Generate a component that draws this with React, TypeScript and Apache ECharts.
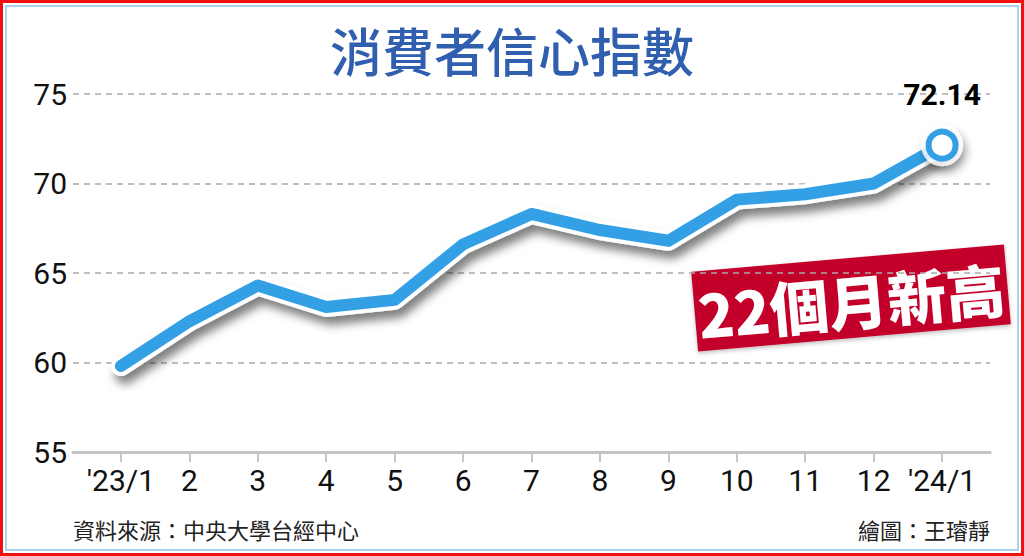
import React, { useEffect, useRef } from "react";
import * as echarts from "echarts";

const categories = ["'23/1", "2", "3", "4", "5", "6", "7", "8", "9", "10", "11", "12", "'24/1"];
const values = [59.8, 62.3, 64.3, 63.1, 63.5, 66.6, 68.3, 67.4, 66.8, 69.1, 69.4, 70.0, 72.14];
const yTicks = [55, 60, 65, 70, 75];
const titleText = "消費者信心指數";
const badgeText = "22個月新高";
const sourceText = "資料來源：中央大學台經中心";
const creditText = "繪圖：王璿靜";

const BLUE = "#33a0e6";
const NUM_FONT = "Roboto, 'Liberation Sans', sans-serif";
const CJK_FONT = "'Noto Sans CJK TC', 'Noto Sans', sans-serif";

export default function App() {
  const ref = useRef<HTMLDivElement>(null);
  useEffect(() => {
    if (!ref.current) return;
    const chart = echarts.init(ref.current, null, { renderer: "svg" });
    const points = values.map((v, i) => [i, v]);
    const last = points[points.length - 1];
    chart.setOption({
      animation: false,
      backgroundColor: "#ffffff",
      title: {
        text: titleText,
        left: "center",
        top: 18,
        textStyle: { fontFamily: CJK_FONT, fontSize: 52, fontWeight: 500, color: "#2f5fae" },
      },
      grid: { left: 73, right: 34, top: 94, bottom: 104 },
      xAxis: {
        type: "value",
        min: -0.7,
        max: 12.7,
        splitLine: { show: false },
        axisLine: { show: true, lineStyle: { color: "#c4c4c4", width: 3 } },
        axisTick: {
          show: true,
          customValues: categories.map((_, i) => i),
          length: 10,
          lineStyle: { color: "#c4c4c4", width: 2 },
        },
        axisLabel: {
          customValues: categories.map((_, i) => i),
          formatter: (v: number) => categories[Math.round(v)] ?? "",
          margin: 13,
          fontSize: 30,
          color: "#111",
          fontFamily: NUM_FONT,
        },
      },
      yAxis: {
        type: "value",
        min: yTicks[0],
        max: yTicks[yTicks.length - 1],
        interval: 5,
        axisLine: { show: false },
        axisTick: { show: false },
        axisLabel: { margin: 6, fontSize: 30, color: "#111", fontFamily: NUM_FONT },
        splitLine: {
          show: true,
          lineStyle: { color: "#ababab", width: 1.5, type: [6, 5] },
        },
      },
      series: [
        {
          type: "line",
          data: points,
          showSymbol: false,
          z: 2,
          lineStyle: {
            color: "#ffffff",
            width: 20,
            cap: "round",
            join: "round",
            shadowColor: "rgba(0,0,0,0.5)",
            shadowBlur: 10,
            shadowOffsetX: 4,
            shadowOffsetY: 8,
          },
        },
        {
          type: "line",
          data: points,
          showSymbol: false,
          z: 3,
          lineStyle: { color: BLUE, width: 12, cap: "round", join: "round" },
        },
        {
          type: "scatter",
          data: [last],
          symbolSize: 42,
          z: 4,
          itemStyle: {
            color: "#ffffff",
            shadowColor: "rgba(0,0,0,0.45)",
            shadowBlur: 8,
            shadowOffsetX: 3,
            shadowOffsetY: 6,
          },
        },
        {
          type: "scatter",
          data: [last],
          symbolSize: 27,
          z: 5,
          itemStyle: { color: "#ffffff", borderColor: BLUE, borderWidth: 6, opacity: 1 },
          label: {
            show: true,
            position: "top",
            distance: 19,
            formatter: (p: any) => p.value[1].toFixed(2),
            fontSize: 30,
            fontWeight: "bold",
            color: "#000",
            fontFamily: NUM_FONT,
          },
        },
      ],
      graphic: [
        {
          type: "rect",
          shape: { x: 1.5, y: 1.5, width: 1021, height: 553 },
          style: { fill: "none", stroke: "#ee1111", lineWidth: 3 },
          silent: true,
          z: 10,
        },
        {
          type: "rect",
          shape: { x: 6, y: 6, width: 1012, height: 544 },
          style: { fill: "none", stroke: "#a9d2f2", lineWidth: 2 },
          silent: true,
          z: 10,
        },
        {
          type: "group",
          x: 851,
          y: 298,
          rotation: (5 * Math.PI) / 180,
          z: 20,
          children: [
            {
              type: "rect",
              shape: { x: -157, y: -40, width: 314, height: 80 },
              style: { fill: "#c2002c", shadowColor: "rgba(0,0,0,0.25)", shadowBlur: 4, shadowOffsetY: 2 },
            },
            {
              type: "text",
              x: 0,
              y: 2,
              style: {
                text: badgeText,
                fill: "#ffffff",
                font: `900 59px ${CJK_FONT}`,
                align: "center",
                verticalAlign: "middle",
              },
            },
          ],
        },
        {
          type: "text",
          x: 73,
          y: 529,
          style: {
            text: sourceText,
            fill: "#222",
            font: `22px ${CJK_FONT}`,
            align: "left",
            verticalAlign: "middle",
          },
        },
        {
          type: "text",
          x: 990,
          y: 529,
          style: {
            text: creditText,
            fill: "#222",
            font: `22px ${CJK_FONT}`,
            align: "right",
            verticalAlign: "middle",
          },
        },
      ],
    });
    return () => chart.dispose();
  }, []);
  return (
    <div
      ref={ref}
      style={{ position: "absolute", left: 0, top: 0, width: 1024, height: 556 }}
    />
  );
}
